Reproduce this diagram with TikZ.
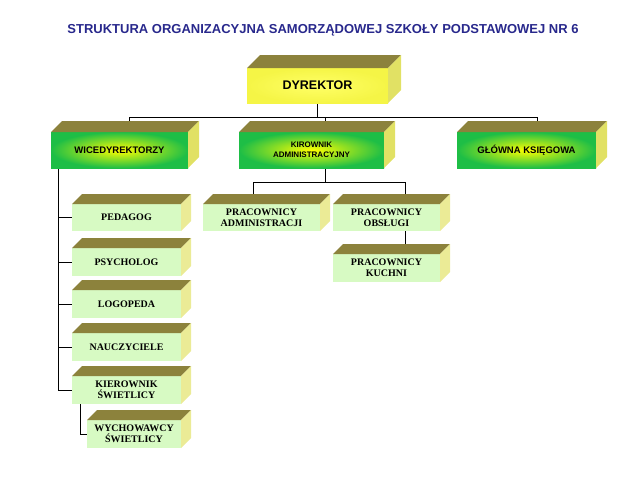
\documentclass[tikz,border=0pt]{standalone}
\usepackage{fontspec}
\setmainfont{Liberation Sans}
\newfontfamily\tms{Liberation Serif}
\usetikzlibrary{backgrounds}
\definecolor{topc}{RGB}{140,130,60}
\definecolor{sidec}{RGB}{225,225,100}
\definecolor{sidel}{RGB}{235,235,150}
\definecolor{paleg}{RGB}{215,250,195}
\definecolor{titlec}{RGB}{40,40,140}
\definecolor{grn}{RGB}{30,190,70}
\definecolor{yel}{RGB}{245,245,70}
\tikzset{
 box/.style={inner sep=0pt,outer sep=0pt,align=center},
 bigbox/.style={box,inner color=yellow!60!white,outer color=yel,font=\bfseries\fontsize{12.5}{14}\selectfont},
 midbox/.style={box,inner color=yellow,outer color=grn,font=\bfseries\fontsize{9.5}{11}\selectfont},
 smallmid/.style={midbox,font=\bfseries\fontsize{8}{10}\selectfont},
 lowbox/.style={box,fill=paleg,font=\tms\bfseries\fontsize{10}{11}\selectfont},
 conn/.style={draw=black,line width=1pt}
}
\newcommand\cube[9]{%
 \node[#7,minimum width=#4pt,minimum height=#5pt] (#1) at (#2,#3) {#8};
 \fill[topc] (#1.north west) -- ++(#6,-#6) -- ++(#4,0) -- (#1.north east) -- cycle;
 \fill[#9] (#1.north east) -- ++(#6,-#6) -- ++(0,#5) -- (#1.south east) -- cycle;
}
\begin{document}
\begin{tikzpicture}[x=1pt,y=-1pt]
\useasboundingbox (0,0) rectangle (644,480);
\node[font=\bfseries\fontsize{13}{15}\selectfont,text=titlec] (title) at (323,30) {STRUKTURA ORGANIZACYJNA SAMORZĄDOWEJ SZKOŁY PODSTAWOWEJ NR 6};
\cube{dyr}{317.5}{85.5}{141}{35}{13}{bigbox}{DYREKTOR}{sidec}
\cube{wice}{119.5}{150}{137}{36}{11}{midbox}{WICEDYREKTORZY}{sidec}
\cube{kier}{311.5}{150}{145}{36}{11}{smallmid}{KIROWNIK\\ADMINISTRACYJNY}{sidec}
\cube{glow}{526.5}{150}{139}{36}{11}{midbox}{GŁÓWNA KSIĘGOWA}{sidec}
\cube{ped}{126.5}{217.5}{109}{27}{10}{lowbox}{PEDAGOG}{sidel}
\cube{psy}{126.5}{262}{109}{28}{10}{lowbox}{PSYCHOLOG}{sidel}
\cube{log}{126.5}{304}{109}{28}{10}{lowbox}{LOGOPEDA}{sidel}
\cube{nau}{126.5}{347}{109}{28}{10}{lowbox}{NAUCZYCIELE}{sidel}
\cube{ksw}{126.5}{390}{109}{28}{10}{lowbox}{KIEROWNIK\\ŚWIETLICY}{sidel}
\cube{wsw}{134}{434}{94}{28}{10}{lowbox}{WYCHOWAWCY\\ŚWIETLICY}{sidel}
\cube{padm}{261.5}{217.5}{117}{27}{10}{lowbox}{PRACOWNICY\\ADMINISTRACJI}{sidel}
\cube{pobs}{386.5}{217.5}{107}{27}{10}{lowbox}{PRACOWNICY\\OBSŁUGI}{sidel}
\cube{pkuch}{386.5}{268}{107}{28}{10}{lowbox}{PRACOWNICY\\KUCHNI}{sidel}
\begin{scope}[on background layer]
 \draw[conn] (dyr.south) -- ++(0,14) coordinate (bus);
 \draw[conn] ([xshift=10pt]wice.north |- bus) -- ([xshift=11pt]glow.north |- bus);
 \draw[conn] ([xshift=10pt]wice.north |- bus) -- ([xshift=10pt]wice.north);
 \draw[conn] ([xshift=14pt]kier.north |- bus) -- ([xshift=14pt]kier.north);
 \draw[conn] ([xshift=11pt]glow.north |- bus) -- ([xshift=11pt]glow.north);
 \draw[conn] ([xshift=14pt]kier.south) -- ++(0,14) coordinate (bus2);
 \draw[conn] ([xshift=-8pt]padm.north |- bus2) -- ([xshift=19pt]pobs.north |- bus2);
 \draw[conn] ([xshift=-8pt]padm.north |- bus2) -- ([xshift=-8pt]padm.north);
 \draw[conn] ([xshift=19pt]pobs.north |- bus2) -- ([xshift=19pt]pobs.north);
 \draw[conn] ([xshift=19pt]pobs.south) -- ([xshift=19pt]pkuch.north);
 \draw[conn] ([xshift=7pt]wice.south west) coordinate (wl) -- (wl |- ksw.west) -- (ksw.west);
 \foreach \n in {ped,psy,log,nau} \draw[conn] (wl |- \n.west) -- (\n.west);
 \draw[conn] ([xshift=8pt]ksw.south west) coordinate (kl) -- (kl |- wsw.west) -- (wsw.west);
\end{scope}
\end{tikzpicture}
\end{document}
